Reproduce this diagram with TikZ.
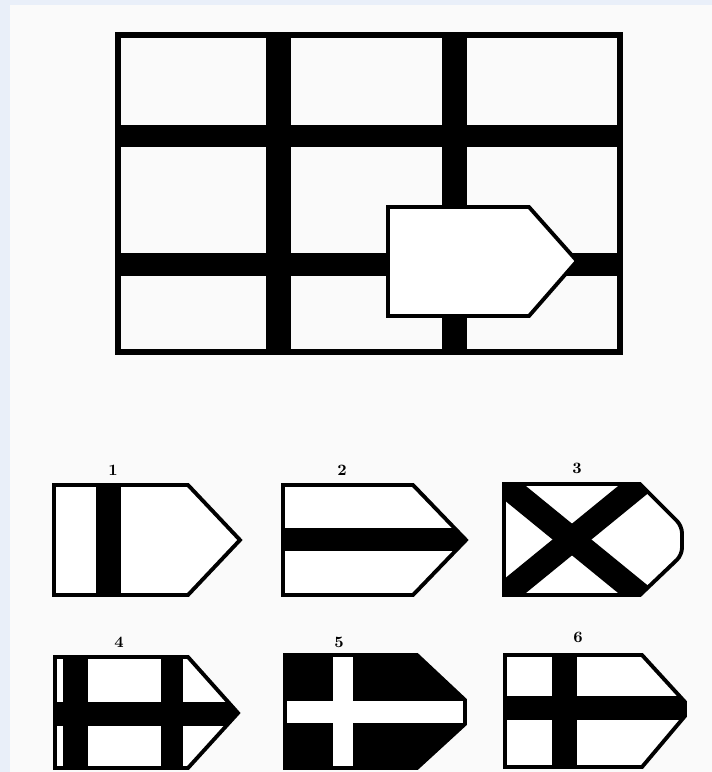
\documentclass[tikz,border=0pt]{standalone}
\usepackage{xcolor}
\definecolor{pageblue}{HTML}{E9EFF9}
\definecolor{paperwhite}{HTML}{FAFAFA}
\usepackage{tikz}

\begin{document}
\begin{tikzpicture}[x=0.02cm, y=-0.02cm,
	frame/.style={draw=black, line width=3pt},
	badge/.style={draw=black, line width=2.2pt, fill=white, line join=miter},
	band/.style={fill=black},
	num/.style={font=\small\bfseries, inner sep=0pt}
	]
% Hintergrund
\fill[pageblue] (0,0) rectangle (712,772);
\fill[paperwhite] (10,5) rectangle (712,772);

% Raster oben mit dem leeren Schild
\fill[band] (266,35) rectangle (291,352);
\fill[band] (442,35) rectangle (467,352);
\fill[band] (118,125) rectangle (620,147);
\fill[band] (118,253) rectangle (620,276);
\draw[frame] (118,35) rectangle (620,352);
\draw[badge] (388,207) -- (529,207) -- (577,261) -- (529,316) -- (388,316) -- cycle;

% Antworten, erste Reihe
\node[num] (n1) at (113,470) {1};
\draw[badge, path picture={\fill[band] (96,480) rectangle (121,600);}]
	(54,485) -- (188,485) -- (240,540) -- (188,595) -- (54,595) -- cycle;

\node[num] (n2) at (342,470) {2};
\draw[badge, path picture={\fill[band] (280,528) rectangle (470,551);}]
	(283,485) -- (413,485) -- (466,540) -- (413,595) -- (283,595) -- cycle;

\node[num] (n3) at (577,468) {3};
\draw[badge, path picture={
		\draw[line width=14pt] (504,484) -- (640,595);
		\draw[line width=14pt] (640,484) -- (504,595);}]
	(504,484) -- (640,484) [rounded corners=4pt] -- (682,526) -- (682,555) [sharp corners] -- (640,595) -- (504,595) -- cycle;

% Antworten, zweite Reihe
\node[num] (n4) at (119,642) {4};
\draw[badge, path picture={
		\fill[band] (63,650) rectangle (88,775);
		\fill[band] (161,650) rectangle (183,775);
		\fill[band] (50,702) rectangle (245,726);}]
	(55,657) -- (188,657) -- (238,713) -- (188,768) -- (55,768) -- cycle;

\node[num] (n5) at (339,642) {5};
\draw[badge, fill=black, path picture={
		\fill[white] (333,650) rectangle (353,775);
		\fill[white] (280,701) rectangle (470,723);}]
	(285,655) -- (417,655) -- (465,700) -- (465,724) -- (417,768) -- (285,768) -- cycle;

\node[num] (n6) at (578,637) {6};
\draw[badge, path picture={
		\fill[band] (552,650) rectangle (577,775);
		\fill[band] (500,696) rectangle (690,720);}]
	(505,655) -- (642,655) -- (685,702) -- (685,716) -- (642,767) -- (505,767) -- cycle;

\end{tikzpicture}
\end{document}
